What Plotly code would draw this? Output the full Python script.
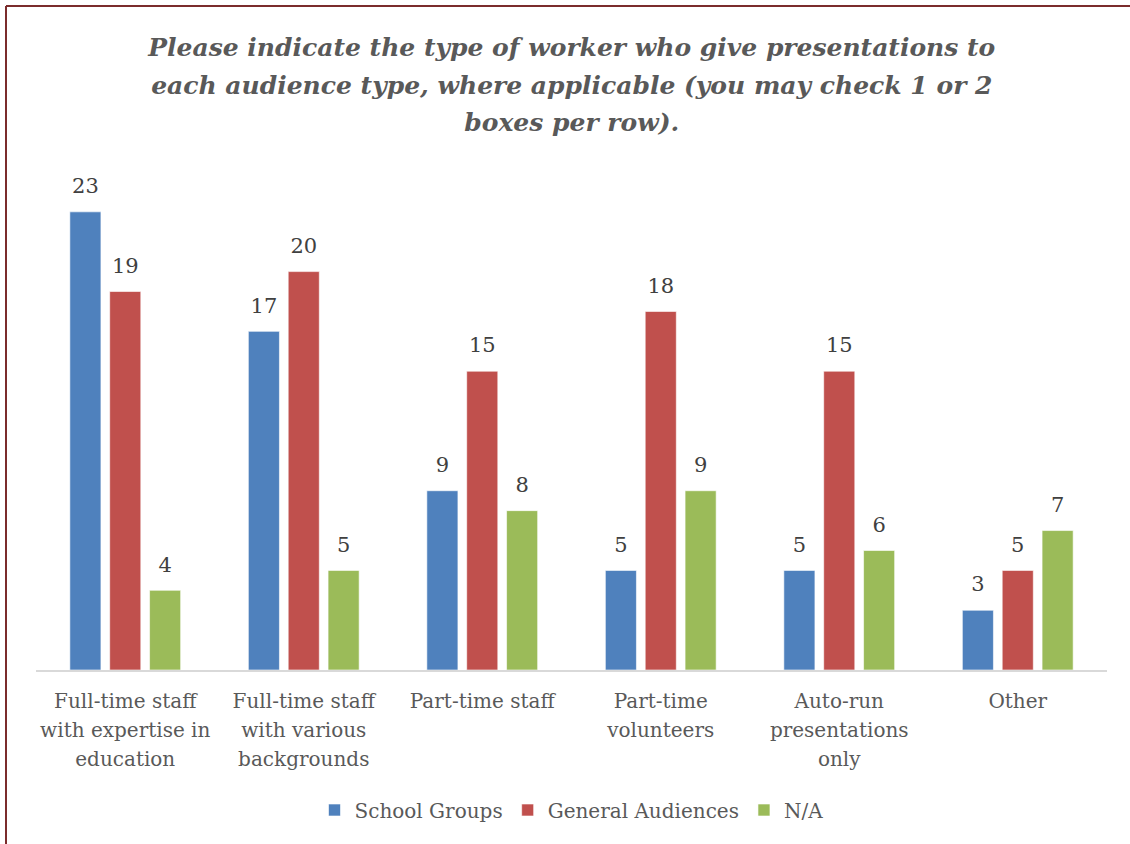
import plotly.graph_objects as go

categories = [
    "Full-time staff<br>with expertise in<br>education",
    "Full-time staff<br>with various<br>backgrounds",
    "Part-time staff",
    "Part-time<br>volunteers",
    "Auto-run<br>presentations<br>only",
    "Other",
]
school_groups = [23, 17, 9, 5, 5, 3]
general_audiences = [19, 20, 15, 18, 15, 5]
not_applicable = [4, 5, 8, 9, 6, 7]

series = [
    ("School Groups", school_groups, "#4F81BD"),
    ("General Audiences", general_audiences, "#C0504D"),
    ("N/A", not_applicable, "#9BBB59"),
]

W, H = 1130, 844
ML, MR, MT, MB = 36, 23, 172, 174
PW, PH = W - ML - MR, H - MT - MB
FONT = "DejaVu Serif"
BARGAP = 0.33


def sized(text, px):
    return f"<span style='font-size:{px}px'>{text}</span>"


# tick labels: glyphs at 20px, line pitch from a 22px base font
tick_labels = [sized(c.replace("<br>", f"</span><br><span style='font-size:20px'>"), 20)
               for c in categories]

fig = go.Figure()
for name, vals, color in series:
    fig.add_trace(go.Bar(
        name=name, x=categories, y=vals, offsetgroup=name,
        marker=dict(color=color, line=dict(color="rgba(255,255,255,0.6)", width=1)),
    ))
# value labels placed above each bar
for name, vals, color in series:
    fig.add_trace(go.Scatter(
        x=categories, y=vals, offsetgroup=name, mode="markers+text",
        text=[str(v) for v in vals], textposition="top center",
        textfont=dict(family=FONT, size=21, color="#404040"),
        marker=dict(size=20, opacity=0), showlegend=False, hoverinfo="skip",
        cliponaxis=False,
    ))

# frame: top and left rules of the page
frame_top = 1 + (MT - 6) / PH
frame_left = -(ML - 6) / PW

title_lines = [
    "Please indicate the type of worker who give presentations to",
    "each audience type, where applicable (you may check 1 or 2",
    "boxes per row).",
]
title_text = "<br>".join(sized(f"<b><i>{t}</i></b>", 25) for t in title_lines)

fig.update_layout(
    width=W, height=H,
    barmode="group", bargap=BARGAP, bargroupgap=0.22,
    scattermode="group", scattergap=BARGAP,
    paper_bgcolor="white", plot_bgcolor="white",
    margin=dict(l=ML, r=MR, t=MT, b=MB, autoexpand=False),
    title=dict(
        text=title_text,
        x=0.506, xanchor="center", yref="container", y=1 - 56 / H, yanchor="middle",
        font=dict(family=FONT, size=29, color="#595959"),
    ),
    xaxis=dict(
        showline=True, linecolor="#D9D9D9", linewidth=2, ticks="",
        tickfont=dict(family=FONT, size=22, color="#595959"),
        tickmode="array", tickvals=categories, ticktext=tick_labels,
        ticklabelstandoff=10,
    ),
    yaxis=dict(range=[0, 25], visible=False, showgrid=False),
    legend=dict(
        orientation="h", x=0.5, xanchor="center",
        yref="container", y=1 - 810 / H, yanchor="middle",
        font=dict(family=FONT, size=20, color="#595959"),
        traceorder="normal",
    ),
    shapes=[
        dict(type="line", xref="paper", yref="paper",
             x0=frame_left, x1=1.03, y0=frame_top, y1=frame_top,
             line=dict(color="#7B2C2C", width=2)),
        dict(type="line", xref="paper", yref="paper",
             x0=frame_left, x1=frame_left, y0=frame_top, y1=-0.36,
             line=dict(color="#7B2C2C", width=2)),
    ],
)

fig.write_html("out.html")
